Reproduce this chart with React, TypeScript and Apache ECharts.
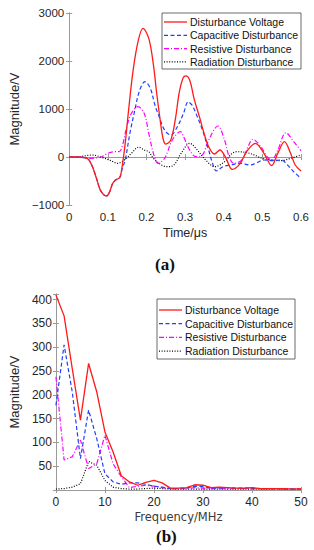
import React, { useEffect, useRef } from "react";
import * as echarts from "echarts";

// ---------- Chart (a): time domain ----------
const seriesNames = [
  "Disturbance Voltage",
  "Capacitive Disturbance",
  "Resistive Disturbance",
  "Radiation Disturbance",
];

const timeVoltage: [number, number][] = [
  [0, 0], [0.02, 0], [0.04, -15], [0.05, -50], [0.06, -200], [0.07, -430], [0.08, -680],
  [0.09, -790], [0.097, -810], [0.105, -720], [0.112, -560], [0.12, -480], [0.131, -425],
  [0.137, -200], [0.145, 285], [0.153, 920], [0.165, 1780], [0.178, 2400], [0.191, 2680],
  [0.206, 2470], [0.218, 1920], [0.226, 1360], [0.235, 800], [0.243, 380], [0.25, 270],
  [0.263, 354], [0.275, 800], [0.285, 1350], [0.295, 1650], [0.302, 1690], [0.312, 1600],
  [0.324, 1190], [0.337, 840], [0.349, 494], [0.361, 215], [0.376, 62], [0.39, 146],
  [0.406, -27], [0.422, -256], [0.443, -131], [0.459, 110], [0.482, 285], [0.504, 77],
  [0.524, -180], [0.54, 77], [0.557, 320], [0.573, 77], [0.585, -167], [0.6, -290],
];

const timeCapacitive: [number, number][] = [
  [0, 0], [0.02, 0], [0.04, -15], [0.05, -50], [0.06, -200], [0.07, -430], [0.08, -680],
  [0.09, -790], [0.097, -810], [0.105, -720], [0.112, -560], [0.12, -480], [0.131, -425],
  [0.137, -250], [0.145, -60], [0.157, 490], [0.169, 945], [0.182, 1380], [0.196, 1570],
  [0.21, 1430], [0.222, 1080], [0.231, 880], [0.247, 560], [0.263, 458], [0.28, 630],
  [0.296, 910], [0.308, 1150], [0.318, 1080], [0.328, 910], [0.345, 560], [0.361, 146],
  [0.371, -131], [0.381, -290], [0.398, -202], [0.418, -167], [0.443, -131], [0.467, -167],
  [0.483, -131], [0.504, -62], [0.524, -77], [0.549, -62], [0.565, -167], [0.581, -306],
  [0.6, -445],
];

const timeResistive: [number, number][] = [
  [0, 0], [0.03, 0], [0.059, -27], [0.084, 6], [0.1, 77], [0.116, 110], [0.129, 110],
  [0.137, 215], [0.149, 630], [0.161, 910], [0.178, 1048], [0.194, 910], [0.206, 494],
  [0.218, 77], [0.23, -131], [0.247, -27], [0.267, 354], [0.288, 527], [0.296, 423],
  [0.312, 146], [0.328, 6], [0.345, 42], [0.361, 354], [0.385, 646], [0.402, 354],
  [0.414, 6], [0.426, -131], [0.447, -62], [0.463, 215], [0.475, 369], [0.496, 215],
  [0.512, 6], [0.524, -62], [0.54, 146], [0.561, 506], [0.581, 320], [0.6, 131],
];

const timeRadiation: [number, number][] = [
  [0, 0], [0.03, 10], [0.059, 42], [0.084, -6], [0.108, -77], [0.125, -131], [0.145, -48],
  [0.161, 77], [0.18, 205], [0.194, 146], [0.206, 110], [0.218, -27], [0.239, -167],
  [0.255, -202], [0.271, -167], [0.29, 80], [0.312, 285], [0.328, 181], [0.353, -62],
  [0.377, -202], [0.402, -98], [0.422, 77], [0.434, 110], [0.467, 77], [0.5, -27],
  [0.524, -62], [0.549, -77], [0.573, -27], [0.6, 42],
];

const timeTicks = [0, 0.1, 0.2, 0.3, 0.4, 0.5, 0.6];
const magTicksA = [-1000, 0, 1000, 2000, 3000];

// ---------- Chart (b): frequency domain ----------
const freqs = [
  0, 1.667, 3.333, 5, 6.667, 8.333, 10, 11.667, 13.333, 15, 16.667, 18.333, 20, 21.667,
  23.333, 25, 26.667, 28.333, 30, 31.667, 33.333, 35, 36.667, 38.333, 40, 41.667, 43.333,
  45, 46.667, 48.333, 50,
];
const freqVoltage = [
  410, 366, 255, 147, 266, 206, 122, 80, 30, 17, 10, 16, 20, 15, 4, 4, 5, 11, 10, 5, 6, 5,
  4, 4, 5, 3, 3, 3, 3, 2, 3,
];
const freqCapacitive = [
  178, 305, 206, 66, 168, 108, 34, 17, 12, 15, 15, 12, 8, 6, 3, 3, 4, 8, 7, 4, 4, 5, 4, 4,
  4, 3, 3, 3, 2, 2, 2,
];
const freqResistive = [
  238, 63, 70, 105, 45, 55, 115, 55, 28, 5, 8, 10, 8, 5, 3, 3, 3, 5, 4, 3, 3, 3, 3, 3, 3,
  2, 2, 2, 2, 2, 2,
];
const freqRadiation = [
  2, 3, 6, 13, 60, 52, 20, 6, 3, 2, 2, 3, 4, 3, 2, 2, 2, 2, 2, 2, 2, 2, 2, 2, 2, 2, 2, 2,
  2, 2, 2,
];

const colors = ["#ff1a1a", "#2040ff", "#ff00ff", "#000000"];
const lineTypes: any[] = ["solid", [4, 2.5], [5, 2, 1, 2], [1, 1.6]];
const lineWidths = [1.3, 1.2, 1.2, 1.2];

const SANS = 'Arial, "Liberation Sans", sans-serif';

function legendGraphic(x: number, y: number, w: number, h: number, y0: number, step: number) {
  const children: any[] = [
    {
      type: "rect",
      shape: { x, y, width: w, height: h },
      style: { fill: "#ffffff", stroke: "#444", lineWidth: 0.8 },
    },
  ];
  seriesNames.forEach((name, i) => {
    const cy = y0 + step * i;
    children.push({
      type: "line",
      shape: { x1: x + 2, y1: cy, x2: x + 25, y2: cy },
      style: {
        stroke: colors[i],
        lineWidth: lineWidths[i],
        lineDash: Array.isArray(lineTypes[i]) ? lineTypes[i] : null,
      },
    });
    children.push({
      type: "text",
      x: x + 28,
      y: cy,
      style: {
        text: name,
        fontSize: 10.5,
        fontFamily: SANS,
        fill: "#111",
        verticalAlign: "middle",
        align: "left",
      },
    });
  });
  return { type: "group", z: 100, children };
}

export default function App() {
  const ref = useRef<HTMLDivElement>(null);

  useEffect(() => {
    if (!ref.current) return;
    const chart = echarts.init(ref.current, undefined, { renderer: "svg" });

    const boxColor = "#9a9a9a";
    const labelColor = "#262626";

    const baseAxis = (extra: any) => ({
      type: "value",
      axisLine: { show: true, lineStyle: { color: boxColor, width: 1 } },
      axisTick: { show: true, inside: true, length: 3, lineStyle: { color: boxColor } },
      splitLine: { show: false },
      ...extra,
    });

    const fmtA = (v: number) => (v < 0 ? "\u2212" + Math.abs(v) : String(v));
    const fmtT = (v: number) => {
      const r = Math.round(v * 10) / 10;
      return timeTicks.includes(r) ? String(r) : "";
    };

    const tSeries = [timeVoltage, timeCapacitive, timeResistive, timeRadiation];
    const fSeries = [freqVoltage, freqCapacitive, freqResistive, freqRadiation];

    const series: any[] = [];
    tSeries.forEach((d, i) => {
      series.push({
        name: seriesNames[i],
        type: "line",
        xAxisIndex: 0,
        yAxisIndex: 0,
        data: d,
        smooth: 0.35,
        symbol: "none",
        z: 10 - i,
        lineStyle: { color: colors[i], width: lineWidths[i], type: lineTypes[i] },
        itemStyle: { color: colors[i] },
      });
    });
    fSeries.forEach((d, i) => {
      series.push({
        name: seriesNames[i],
        type: "line",
        xAxisIndex: 2,
        yAxisIndex: 2,
        data: d.map((v, k) => [freqs[k], v]),
        symbol: "none",
        z: 10 - i,
        lineStyle: { color: colors[i], width: lineWidths[i], type: lineTypes[i] },
        itemStyle: { color: colors[i] },
      });
    });

    chart.setOption({
      animation: false,
      backgroundColor: "#ffffff",
      grid: [
        { left: 55.7, top: 13, width: 245.3, height: 192 },
        { left: 46, top: 294, width: 255, height: 196 },
      ],
      xAxis: [
        baseAxis({
          gridIndex: 0,
          position: "bottom",
          min: 0,
          max: 0.6,
          interval: 0.1,
          name: "Time/\u03bcs",
          nameLocation: "middle",
          nameGap: 21,
          nameTextStyle: { fontSize: 12.5, color: labelColor, fontFamily: SANS },
          axisLabel: { fontSize: 11.5, color: labelColor, fontFamily: SANS, margin: 6, formatter: fmtT },
        }),
        baseAxis({
          gridIndex: 0,
          position: "top",
          min: 0,
          max: 0.6,
          interval: 0.1,
          axisLabel: { show: false },
        }),
        baseAxis({
          gridIndex: 1,
          position: "bottom",
          min: 0,
          max: 50,
          interval: 10,
          name: "Frequency/MHz",
          nameLocation: "middle",
          nameGap: 21,
          nameTextStyle: { fontSize: 11.5, color: "#3a3a3a", fontFamily: '"DejaVu Sans", sans-serif' },
          axisLabel: { fontSize: 12, color: labelColor, fontFamily: SANS, margin: 6 },
        }),
        baseAxis({
          gridIndex: 1,
          position: "top",
          min: 0,
          max: 50,
          interval: 10,
          axisLabel: { show: false },
        }),
      ],
      yAxis: [
        baseAxis({
          gridIndex: 0,
          position: "left",
          min: magTicksA[0],
          max: magTicksA[magTicksA.length - 1],
          interval: 1000,
          name: "Magnitude/V",
          nameLocation: "middle",
          nameGap: 38,
          nameTextStyle: { fontSize: 13, color: labelColor, fontFamily: SANS },
          axisLabel: { fontSize: 11.5, color: labelColor, fontFamily: SANS, margin: 5, formatter: fmtA },
        }),
        baseAxis({
          gridIndex: 0,
          position: "right",
          min: magTicksA[0],
          max: magTicksA[magTicksA.length - 1],
          interval: 1000,
          axisLabel: { show: false },
        }),
        baseAxis({
          gridIndex: 1,
          position: "left",
          min: 0,
          max: 412,
          interval: 50,
          name: "Magnitude/V",
          nameLocation: "middle",
          nameGap: 34,
          nameTextStyle: { fontSize: 13, color: labelColor, fontFamily: SANS },
          axisLabel: {
            fontSize: 12,
            color: labelColor,
            fontFamily: SANS,
            margin: 4,
            formatter: (v: number) => (v === 0 || v % 50 !== 0 ? "" : String(v)),
          },
        }),
        baseAxis({
          gridIndex: 1,
          position: "right",
          min: 0,
          max: 412,
          interval: 50,
          axisLabel: { show: false },
        }),
      ],
      graphic: [
        legendGraphic(162, 13, 139, 56, 22, 13.3),
        legendGraphic(157, 299, 138, 60, 310, 13.7),
        {
          type: "text",
          left: 155,
          top: 256,
          style: {
            text: "(a)",
            font: 'bold 17px "Liberation Serif", "Times New Roman", serif',
            fill: "#111",
          },
        },
        {
          type: "text",
          left: 156,
          top: 528,
          style: {
            text: "(b)",
            font: 'bold 17px "Liberation Serif", "Times New Roman", serif',
            fill: "#111",
          },
        },
      ],
      series,
    });

    return () => chart.dispose();
  }, []);

  return (
    <div
      ref={ref}
      style={{ position: "absolute", left: 0, top: 0, width: 314, height: 550 }}
    />
  );
}
